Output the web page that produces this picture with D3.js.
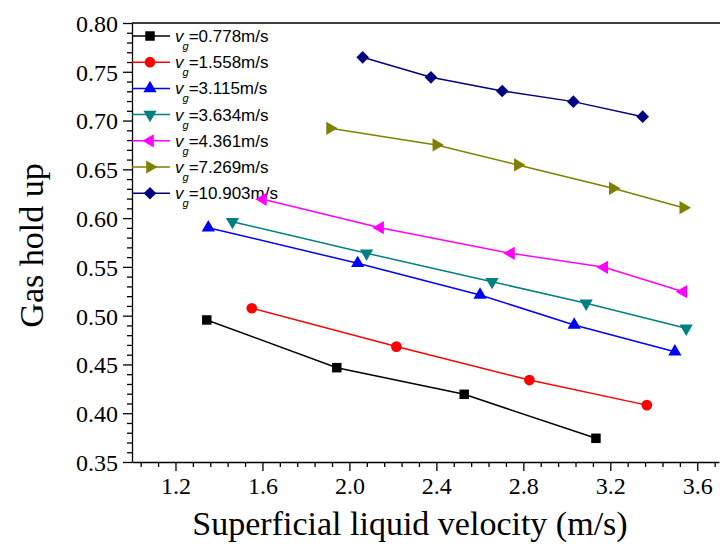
<!DOCTYPE html>
<html>
<head>
<meta charset="utf-8">
<script src="https://cdn.jsdelivr.net/npm/d3@7"></script>
<style>
  body { margin: 0; background: #fff; }
  svg { display: block; }
</style>
</head>
<body>
<svg id="chart" width="720" height="544"></svg>
<script>
//
// Data
//

var gasVelocity = ['0.778', '1.558', '3.115', '3.634', '4.361', '7.269', '10.903']

var liq0778 = [1.344, 1.942, 2.528, 3.134]
var hold0778 = [0.4956, 0.4467, 0.4194, 0.3743]
var liq1558 = [1.551, 2.216, 2.828, 3.368]
var hold1558 = [0.5076, 0.4683, 0.434, 0.4083]
var liq3115 = [1.351, 2.038, 2.601, 3.034, 3.497]
var hold3115 = [0.5902, 0.5537, 0.5212, 0.4905, 0.4631]
var liq3634 = [1.462, 2.079, 2.656, 3.089, 3.549]
var hold3634 = [0.5963, 0.564, 0.5348, 0.5127, 0.4871]
var liq4361 = [1.602, 2.141, 2.743, 3.172, 3.536]
var hold4361 = [0.6193, 0.5902, 0.5639, 0.5496, 0.5246]
var liq7269 = [1.911, 2.40, 2.775, 3.212, 3.536]
var hold7269 = [0.692, 0.675, 0.6545, 0.6306, 0.6107]
var liq10903 = [2.061, 2.375, 2.703, 3.030, 3.349]
var hold10903 = [0.7648, 0.7443, 0.7303, 0.7194, 0.704]

var xTicks = [1.2, 1.6, 2.0, 2.4, 2.8, 3.2, 3.6]
var yTicks = [0.35, 0.40, 0.45, 0.50, 0.55, 0.60, 0.65, 0.70, 0.75, 0.80]

//
// Configuration
//

var plotLeft = 132, plotRight = 719, plotTop = 23, plotBottom = 462
var colors = ['#000000', '#ff0000', '#0000ff', '#008080', '#ff00ff', '#808000', '#000080']
// marker: symbol type + rotation
var markers = [
  {type: d3.symbolSquare, size: 90, rot: 0},
  {type: d3.symbolCircle, size: 90, rot: 0},
  {type: d3.symbolTriangle, size: 76, rot: 0},
  {type: d3.symbolTriangle, size: 76, rot: 180},
  {type: d3.symbolTriangle, size: 76, rot: -90},
  {type: d3.symbolTriangle, size: 76, rot: 90},
  {type: d3.symbolSquare, size: 80, rot: 45}
]

var allX = [liq0778, liq1558, liq3115, liq3634, liq4361, liq7269, liq10903]
var allY = [hold0778, hold1558, hold3115, hold3634, hold4361, hold7269, hold10903]
var series = allX.map(function(xs, i) {
  return xs.map(function(x, j) { return {x: x, y: allY[i][j]} })
})

var svg = d3.select('#chart')
var x = d3.scaleLinear().domain([1.0, 3.7]).range([plotLeft, plotRight])
var y = d3.scaleLinear().domain([0.35, 0.80]).range([plotBottom, plotTop])

var serif = '"Liberation Serif", "Times New Roman", serif'
var sans = '"Liberation Sans", Arial, sans-serif'

//
// Axes
//

// minor ticks first, then majors on top
var xMinor = d3.range(1.04, 3.7, 0.08).filter(function(v) { return Math.abs((v - 1.2) / 0.4 - Math.round((v - 1.2) / 0.4)) > 0.01 })
var yMinor = d3.range(0.36, 0.80, 0.01).filter(function(v) { return Math.abs(v / 0.05 - Math.round(v / 0.05)) > 0.01 })

svg.append('g')
  .attr('transform', 'translate(0,' + plotBottom + ')')
  .call(d3.axisBottom(x).tickValues(xMinor).tickSize(5).tickFormat(''))
  .call(function(g) { g.select('.domain').remove() })

svg.append('g')
  .attr('transform', 'translate(' + plotLeft + ',0)')
  .call(d3.axisLeft(y).tickValues(yMinor).tickSize(5).tickFormat(''))
  .call(function(g) { g.select('.domain').remove() })

var xAxis = svg.append('g')
  .attr('transform', 'translate(0,' + plotBottom + ')')
  .call(d3.axisBottom(x).tickValues(xTicks).tickSize(9).tickSizeOuter(0).tickPadding(6).tickFormat(d3.format('.1f')))

var yAxis = svg.append('g')
  .attr('transform', 'translate(' + plotLeft + ',0)')
  .call(d3.axisLeft(y).tickValues(yTicks).tickSize(9).tickSizeOuter(0).tickPadding(5).tickFormat(d3.format('.2f')))

svg.selectAll('.tick line, .domain').attr('stroke', '#000').attr('stroke-width', 1.3)
xAxis.selectAll('text').attr('font-family', serif).attr('font-size', 24).attr('fill', '#000')
yAxis.selectAll('text').attr('font-family', serif).attr('font-size', 24).attr('fill', '#000').attr('dy', '0.35em')

// top frame line
svg.append('line')
  .attr('x1', plotLeft).attr('x2', 720).attr('y1', plotTop).attr('y2', plotTop)
  .attr('stroke', '#000').attr('stroke-width', 1.5)

svg.append('text')
  .attr('x', 410)
  .attr('y', 535)
  .attr('text-anchor', 'middle')
  .attr('font-family', serif)
  .attr('font-size', 34)
  .text('Superficial liquid velocity (m/s)')

svg.append('text')
  .attr('transform', 'translate(43,' + ((plotTop + plotBottom) / 2 + 3) + ') rotate(-90)')
  .attr('text-anchor', 'middle')
  .attr('font-family', serif)
  .attr('font-size', 34)
  .text('Gas hold up')

//
// Legend
//

var legend = svg.append('g')
gasVelocity.forEach(function(v, i) {
  var ly = 36 + i * 26.2
  legend.append('line')
    .attr('x1', plotLeft).attr('x2', 170).attr('y1', ly).attr('y2', ly)
    .attr('stroke', colors[i]).attr('stroke-width', 1.5)
  legend.append('path')
    .attr('d', d3.symbol(markers[i].type, markers[i].size)())
    .attr('transform', 'translate(150,' + ly + ') rotate(' + markers[i].rot + ')')
    .attr('fill', colors[i])
  var t = legend.append('text')
    .attr('x', 175).attr('y', ly + 6)
    .attr('font-family', sans).attr('font-size', 17).attr('fill', '#000')
  t.append('tspan').attr('font-style', 'italic').text('v')
  t.append('tspan').attr('font-size', 11).attr('font-style', 'italic').attr('dy', 8).attr('dx', -1).text('g')
  t.append('tspan').attr('dy', -8).attr('dx', 0).text('=' + v + 'm/s')
})

//
// Series
//

var line = d3.line().x(function(d) { return x(d.x) }).y(function(d) { return y(d.y) })

series.forEach(function(pts, i) {
  svg.append('path')
    .datum(pts)
    .attr('d', line)
    .attr('fill', 'none')
    .attr('stroke', colors[i])
    .attr('stroke-width', 1.5)
  svg.selectAll('.pt' + i)
    .data(pts)
    .enter()
    .append('path')
    .attr('class', 'pt' + i)
    .attr('d', d3.symbol(markers[i].type, markers[i].size)())
    .attr('transform', function(d) { return 'translate(' + x(d.x) + ',' + y(d.y) + ') rotate(' + markers[i].rot + ')' })
    .attr('fill', colors[i])
})
</script>
</body>
</html>
